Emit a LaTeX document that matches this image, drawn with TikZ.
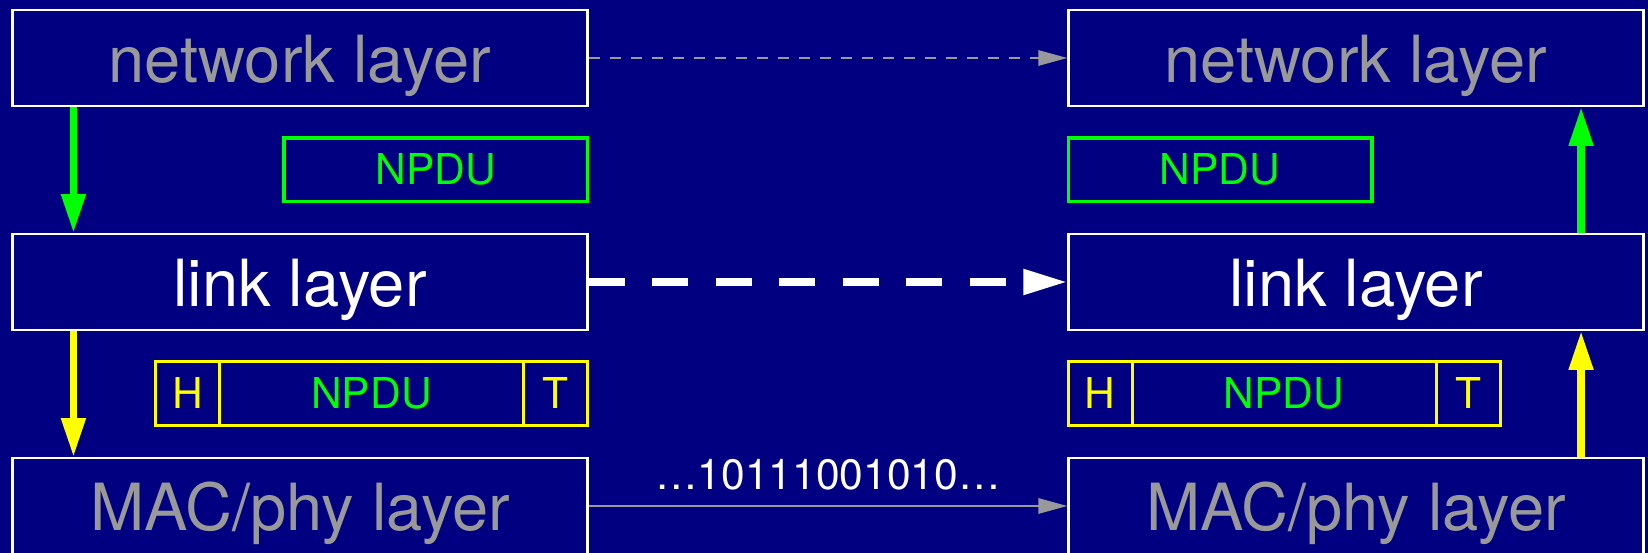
\documentclass[tikz,border=0pt]{standalone}
\usepackage{fontspec}
\setmainfont{TeX Gyre Heros}
\usepackage{tikz}
\usetikzlibrary{positioning,arrows.meta}
\definecolor{azulfondo}{RGB}{0,0,128}
\definecolor{grisclaro}{RGB}{153,153,153}
\definecolor{verde}{RGB}{0,255,0}
\definecolor{amarillo}{RGB}{255,255,0}

\begin{document}
\begin{tikzpicture}[
    capa/.style={draw=white, line width=1.2pt, minimum width=11.5cm, minimum height=1.91cm,
                 inner sep=0pt, text height=28pt, text depth=0pt,
                 font=\fontsize{37}{40}\selectfont},
    npdu/.style={draw=verde, line width=2pt, text=verde, minimum width=6.07cm,
                 minimum height=1.27cm, inner sep=0pt, text height=17pt, text depth=0pt,
                 font=\fontsize{24.2}{28}\selectfont},
    campo/.style={draw=amarillo, line width=1.7pt, text=amarillo, minimum width=1.28cm,
                  minimum height=1.27cm, inner sep=0pt, outer sep=0pt, text height=17pt,
                  text depth=0pt, font=\fontsize{24.2}{28}\selectfont},
    flechacapa/.style={line width=4.3pt, -{Triangle[length=0.78cm, width=0.46cm]}},
    virtual/.style={grisclaro, line width=1.6pt, dash pattern=on 0.23cm off 0.19cm,
                    -{Triangle[length=0.58cm, width=0.3cm]}},
    enlace/.style={white, line width=4.5pt, dash pattern=on 0.72cm off 0.55cm,
                   -{Triangle[length=0.88cm, width=0.48cm]}},
    fisico/.style={grisclaro, line width=1.6pt, -{Triangle[length=0.58cm, width=0.3cm]}}]
  \fill[azulfondo] (0,0) rectangle (32.96,11.06);
  \useasboundingbox (0,0) rectangle (32.96,11.06);
  % pila izquierda
  \node[capa, text=grisclaro] (redI) at (6.0,9.9) {network layer};
  \node[capa, text=white] (enlaceI) at (6.0,5.42) {link layer};
  \node[capa, text=grisclaro] (macI) at (6.0,0.94) {MAC/phy layer};
  \node[npdu] (npduI) at (8.715,7.66) {NPDU};
  \node[campo] (cabI) at (3.75,3.19) {H};
  \node[campo, minimum width=6.08cm, text=verde, right=0pt of cabI] (datosI) {NPDU};
  \node[campo, right=0pt of datosI] (colaI) {T};
  % pila derecha
  \node[capa, text=grisclaro] (redD) at (27.12,9.9) {network layer};
  \node[capa, text=white] (enlaceD) at (27.12,5.42) {link layer};
  \node[capa, text=grisclaro] (macD) at (27.12,0.94) {MAC/phy layer};
  \node[npdu] (npduD) at (24.4,7.66) {NPDU};
  \node[campo] (cabD) at (22.0,3.19) {H};
  \node[campo, minimum width=6.08cm, text=verde, right=0pt of cabD] (datosD) {NPDU};
  \node[campo, right=0pt of datosD] (colaD) {T};
  % bajada y subida
  \draw[flechacapa, verde] ([xshift=1.24cm]redI.south west) -- ([xshift=1.24cm]enlaceI.north west);
  \draw[flechacapa, amarillo] ([xshift=1.24cm]enlaceI.south west) -- ([xshift=1.24cm]macI.north west);
  \draw[flechacapa, amarillo] ([xshift=-1.27cm]macD.north east) -- ([xshift=-1.27cm]enlaceD.south east);
  \draw[flechacapa, verde] ([xshift=-1.27cm]enlaceD.north east) -- ([xshift=-1.27cm]redD.south east);
  % entre pares
  \draw[virtual] (redI.east) -- (redD.west);
  \draw[enlace] (enlaceI.east) -- (enlaceD.west);
  \draw[fisico] (macI.east) -- node[above=0.31cm, inner sep=0pt, text=white, text height=17pt,
      text depth=0pt, font=\fontsize{24.2}{28}\selectfont] (bits) {…10111001010…} (macD.west);
\end{tikzpicture}
\end{document}
